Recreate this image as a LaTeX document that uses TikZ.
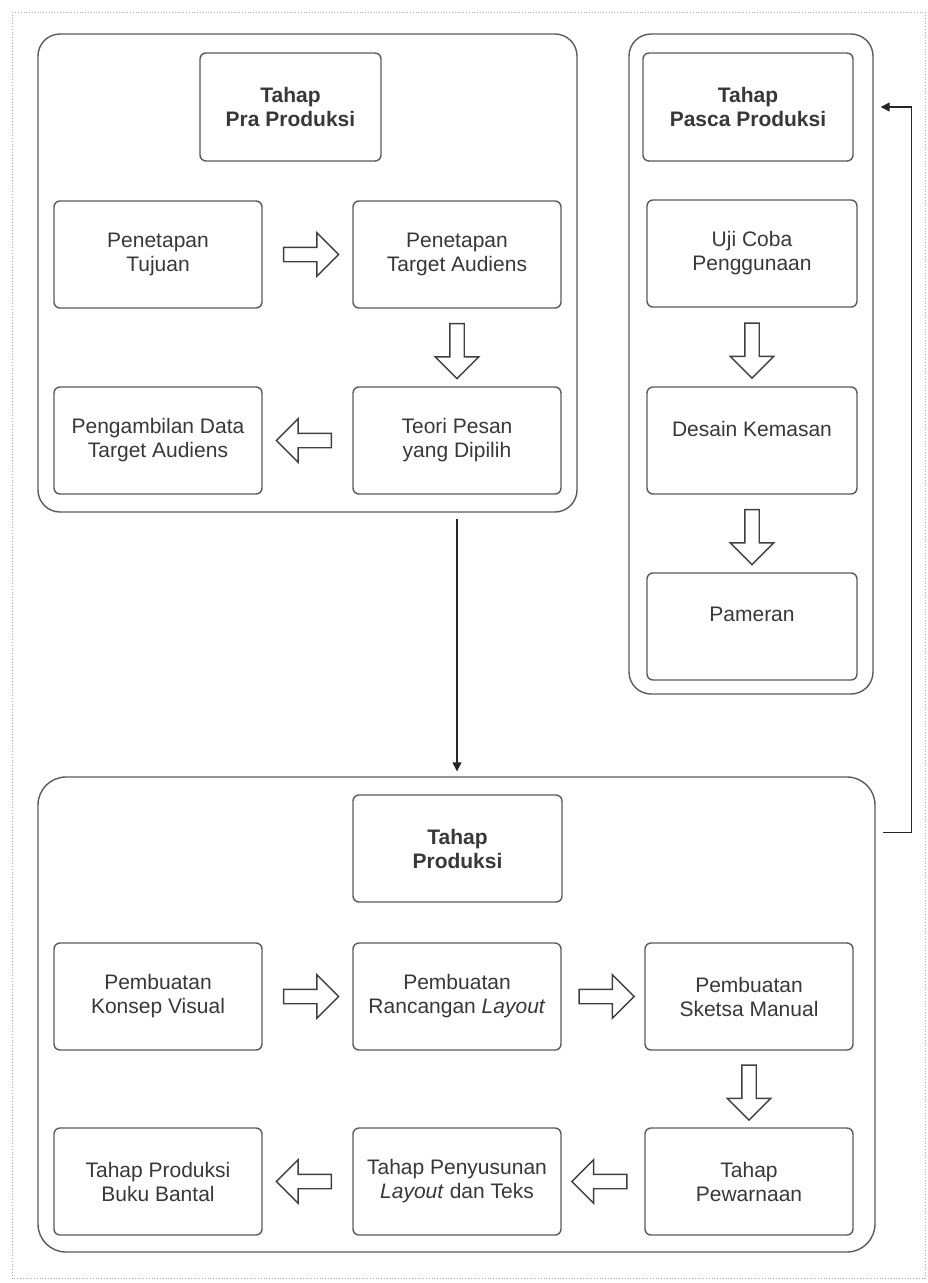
\documentclass[tikz,border=0pt]{standalone}
\usepackage{fontspec}
\setmainfont{Liberation Sans}
\usetikzlibrary{shapes.arrows,arrows.meta,calc}
\definecolor{boxc}{HTML}{5A5A5A}
\definecolor{txtc}{HTML}{383838}
\definecolor{arrc}{HTML}{404040}
\definecolor{framec}{HTML}{AAAAAA}
\tikzset{
  outerbox/.style={draw=boxc, line width=1.4pt, rounded corners=22pt, inner sep=0pt},
  stepbox/.style={draw=boxc, line width=1.4pt, rounded corners=6pt, inner sep=0pt,
    minimum width=208pt, minimum height=107pt, align=center, text=txtc,
    font=\fontsize{21}{24}\selectfont},
  titlebox/.style={stepbox, font=\fontsize{21}{24}\selectfont\bfseries},
  barrow/.style={single arrow, draw=arrc, line width=1.4pt, fill=white,
    inner sep=6.5pt, single arrow head extend=14.5pt, minimum height=55pt,
    minimum width=0pt, single arrow tip angle=90},
  conn/.style={draw=black!85, line width=1.3pt, -{Triangle[length=9pt,width=9pt]}}
}
\begin{document}
\begin{tikzpicture}[x=1pt,y=-1pt]
\useasboundingbox (0,0) rectangle (927,1283);
\draw[framec, dotted, line width=0.8pt] (12,12) rectangle (925,1278);

% Pra Produksi
\node[outerbox, minimum width=539pt, minimum height=478pt] (pra) at (307.5,273) {};
\node[titlebox, minimum width=181pt, minimum height=108pt] (pratitle) at (290.5,107) {Tahap\\Pra Produksi};
\node[stepbox] (tujuan) at (158,254.5) {Penetapan\\Tujuan};
\node[stepbox] (target) at (457,254.5) {Penetapan\\Target Audiens};
\node[stepbox] (teori) at (457,440.5) {Teori Pesan\\yang Dipilih};
\node[stepbox] (ambil) at (158,440.5) {Pengambilan Data\\Target Audiens};
\node[barrow] (a1) at ($(tujuan.east)!0.5!(target.west)$) {};
\node[barrow, shape border rotate=270] (a2) at ($(target.south)!0.5!(teori.north)$) {};
\node[barrow, shape border rotate=180] (a3) at ($(teori.west)!0.5!(ambil.east)$) {};

% Pasca Produksi
\node[outerbox, minimum width=244pt, minimum height=660pt] (pasca) at (751,364) {};
\node[titlebox, minimum width=210pt, minimum height=108pt] (pastitle) at (748,107) {Tahap\\Pasca Produksi};
\node[stepbox, minimum width=210pt] (uji) at (752,253.5) {Uji Coba\\Penggunaan};
\node[stepbox, minimum width=210pt] (desain) at (752,440.5) {Desain Kemasan\\~};
\node[stepbox, minimum width=210pt] (pameran) at (752,626.5) {Pameran\\~};
\node[barrow, shape border rotate=270] (b1) at ($(uji.south)!0.5!(desain.north)$) {};
\node[barrow, shape border rotate=270] (b2) at ($(desain.south)!0.5!(pameran.north)$) {};

% Produksi
\node[outerbox, rounded corners=28pt, minimum width=837pt, minimum height=475pt] (prod) at (456.5,1014.5) {};
\node[titlebox, minimum width=209pt] (prodtitle) at (457.5,848.5) {Tahap\\Produksi};
\node[stepbox] (konsep) at (158,996.5) {Pembuatan\\Konsep Visual};
\node[stepbox] (rancang) at (457,996.5) {Pembuatan\\Rancangan \textit{Layout}};
\node[stepbox] (sketsa) at (749,996.5) {Pembuatan\\Sketsa Manual};
\node[stepbox] (warna) at (749,1181.5) {Tahap\\Pewarnaan};
\node[stepbox] (susun) at (457,1181.5) {Tahap Penyusunan\\\textit{Layout} dan Teks};
\node[stepbox] (buku) at (158,1181.5) {Tahap Produksi\\Buku Bantal};
\node[barrow] (c1) at ($(konsep.east)!0.5!(rancang.west)$) {};
\node[barrow] (c2) at ($(rancang.east)!0.5!(sketsa.west)$) {};
\node[barrow, shape border rotate=270] (c3) at ($(sketsa.south)!0.5!(warna.north)$) {};
\node[barrow, shape border rotate=180] (c4) at ($(warna.west)!0.5!(susun.east)$) {};
\node[barrow, shape border rotate=180] (c5) at ($(susun.west)!0.5!(buku.east)$) {};

% connectors
\draw[conn, shorten <=6pt, shorten >=5pt] (pra.south -| teori.south) -- (prod.north -| teori.south);
\draw[conn, shorten <=7pt, shorten >=7pt] ($(prod.north east)+(0,56)$) -- ++(36,0) |- (pasca.east |- pastitle.center);
\end{tikzpicture}
\end{document}
